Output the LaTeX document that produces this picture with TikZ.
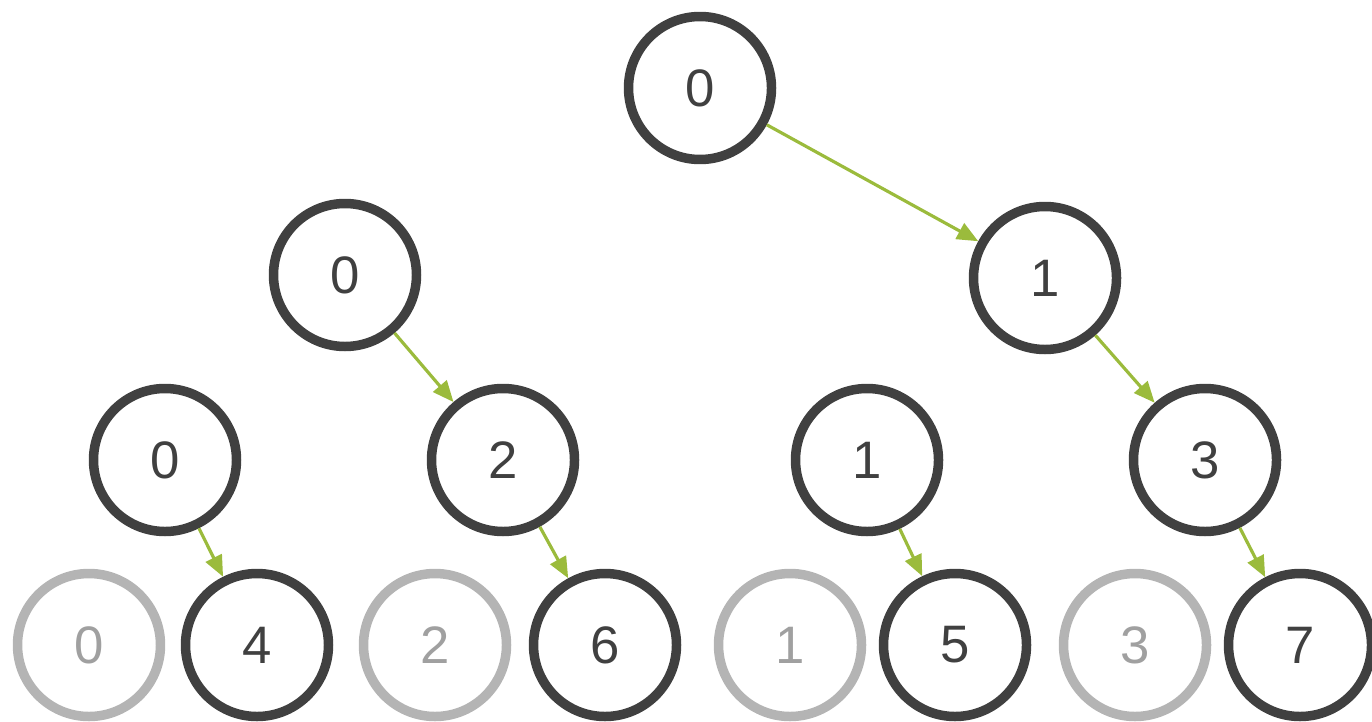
\documentclass[tikz,border=0pt]{standalone}
\usepackage{fontspec}
\setmainfont{Liberation Sans}
\usetikzlibrary{arrows.meta}
\definecolor{ring}{HTML}{404040}
\definecolor{ghostring}{HTML}{B4B4B4}
\definecolor{ghosttext}{HTML}{A0A0A0}
\definecolor{link}{HTML}{9BBB3C}

\begin{document}
\begin{tikzpicture}[
  every node/.append style={font=\fontsize{15}{18}\selectfont},
  tnode/.style={circle,draw=ring,line width=2.7pt,minimum size=1.43cm,inner sep=0pt,text=ring,fill=white},
  ghost/.style={tnode,draw=ghostring,text=ghosttext},
  arc/.style={draw=link,line width=0.9pt,-{Triangle[length=6pt,width=5pt]}}]
\useasboundingbox (0,0) rectangle (13.72,7.21);
% ---- root and first level
\node[tnode] (r) at (7.00,6.33) {0};
\node[tnode] (a0) at (3.45,4.46) {0};
\node[tnode] (a1) at (10.45,4.43) {1};
% ---- second level
\node[tnode] (b0) at (1.65,2.61) {0};
\node[tnode] (b1) at (5.03,2.61) {2};
\node[tnode] (b2) at (8.67,2.61) {1};
\node[tnode] (b3) at (12.05,2.61) {3};
% ---- leaves
\node[ghost] (c0) at (0.89,0.76) {0};
\node[tnode] (c1) at (2.57,0.76) {4};
\node[ghost] (c2) at (4.35,0.76) {2};
\node[tnode] (c3) at (6.05,0.76) {6};
\node[ghost] (c4) at (7.90,0.76) {1};
\node[tnode] (c5) at (9.55,0.76) {5};
\node[ghost] (c6) at (11.35,0.76) {3};
\node[tnode] (c7) at (13.00,0.76) {7};
% ---- links
\draw[arc] (r) -- (a1);
\draw[arc] (a0) -- (b1);
\draw[arc] (a1) -- (b3);
\draw[arc] (b0) -- (c1);
\draw[arc] (b1) -- (c3);
\draw[arc] (b2) -- (c5);
\draw[arc] (b3) -- (c7);
\end{tikzpicture}
\end{document}
